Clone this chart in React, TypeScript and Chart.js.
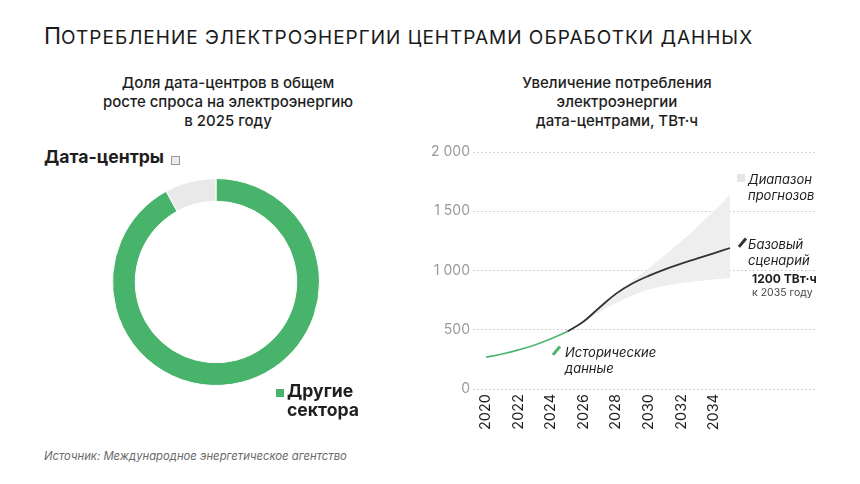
import React, { useEffect, useRef } from "react";
import { Chart, registerables } from "chart.js";

Chart.register(...registerables);

// Donut data
const donutLabels = ["Другие сектора", "Дата-центры"];
const donutValues = [92, 8];
const donutColors = ["#48b36a", "#e9e9e9"];

// Line chart data
const histYears = [2020, 2021, 2022, 2023, 2024, 2025];
const histValues = [268, 295, 330, 372, 425, 485];
const baseYears = [2025, 2026, 2027, 2028, 2029, 2030, 2031, 2032, 2033, 2034, 2035];
const baseValues = [485, 570, 690, 805, 890, 955, 1010, 1058, 1102, 1145, 1190];
const rangeYears = [2026, 2027, 2028, 2029, 2030, 2031, 2032, 2033, 2034, 2035];
const rangeHigh = [575, 700, 815, 915, 1020, 1130, 1245, 1370, 1500, 1640];
const rangeLow = [565, 650, 725, 790, 840, 872, 895, 912, 925, 936];
const xTickYears = [2020, 2022, 2024, 2026, 2028, 2030, 2032, 2034];
const yTickValues = [0, 500, 1000, 1500, 2000];

const FONT = "Inter, 'Noto Sans', sans-serif";

const toPts = (xs: number[], ys: number[]) => xs.map((x, i) => ({ x, y: ys[i] }));
const fmtThousands = (v: number) =>
  String(v).replace(/\B(?=(\d{3})+(?!\d))/g, " ");

function Donut() {
  const ref = useRef<HTMLCanvasElement>(null);
  useEffect(() => {
    const chart = new Chart(ref.current!, {
      type: "doughnut",
      data: {
        labels: donutLabels,
        datasets: [
          {
            data: donutValues,
            backgroundColor: donutColors,
            borderColor: "#ffffff",
            borderWidth: 1,
          },
        ],
      },
      options: {
        animation: false,
        responsive: false,
        cutout: "78%",
        layout: { padding: 0 },
        plugins: { legend: { display: false }, tooltip: { enabled: false } },
      },
    });
    return () => chart.destroy();
  }, []);
  return (
    <canvas
      ref={ref}
      width={208}
      height={208}
      style={{ position: "absolute", left: 112, top: 178, width: 208, height: 208 }}
    />
  );
}

function LineChart() {
  const ref = useRef<HTMLCanvasElement>(null);
  useEffect(() => {
    const chart = new Chart(ref.current!, {
      type: "line",
      data: {
        datasets: [
          {
            label: "Исторические данные",
            data: toPts(histYears, histValues),
            borderColor: "#4cb56e",
            borderWidth: 1.6,
            pointRadius: 0,
            tension: 0.4,
            fill: false,
            order: 0,
          },
          {
            label: "Базовый сценарий",
            data: toPts(baseYears, baseValues),
            borderColor: "#333333",
            borderWidth: 1.8,
            pointRadius: 0,
            tension: 0.4,
            fill: false,
            order: 0,
          },
          {
            label: "Диапазон прогнозов (верх)",
            data: toPts(rangeYears, rangeHigh),
            borderWidth: 0,
            borderColor: "rgba(0,0,0,0)",
            backgroundColor: "#eeeeee",
            pointRadius: 0,
            tension: 0.3,
            fill: "+1",
            order: 2,
          },
          {
            label: "Диапазон прогнозов (низ)",
            data: toPts(rangeYears, rangeLow),
            borderWidth: 0,
            borderColor: "rgba(0,0,0,0)",
            pointRadius: 0,
            tension: 0.3,
            fill: false,
            order: 3,
          },
        ],
      },
      options: {
        animation: false,
        responsive: false,
        layout: { padding: { top: 12, right: 23, left: 0, bottom: 0 } },
        plugins: { legend: { display: false }, tooltip: { enabled: false } },
        scales: {
          x: {
            type: "linear",
            min: 2019.2,
            max: 2040.35,
            grid: { display: false, drawTicks: false },
            border: { display: false },
            afterBuildTicks: (scale: any) => {
              scale.ticks = xTickYears.map((v) => ({ value: v }));
            },
            afterFit: (scale: any) => {
              scale.height = 51;
            },
            ticks: {
              autoSkip: false,
              minRotation: 90,
              maxRotation: 90,
              padding: 5,
              color: "#1e1e1e",
              font: { family: FONT, size: 14.5 },
              callback: (v: any) => String(v),
            },
          },
          y: {
            min: 0,
            max: 2000,
            afterBuildTicks: (scale: any) => {
              scale.ticks = yTickValues.map((v) => ({ value: v }));
            },
            afterFit: (scale: any) => {
              scale.width = 53;
            },
            grid: { color: "#c4c4c4", lineWidth: 1, drawTicks: false },
            border: { display: false, dash: [1.5, 2.5] },
            ticks: {
              padding: 3,
              color: "#9a9a9a",
              font: { family: FONT, size: 14 },
              callback: (v: any) => fmtThousands(Number(v)),
            },
          },
        },
      },
    });
    return () => chart.destroy();
  }, []);
  return (
    <canvas
      ref={ref}
      width={420}
      height={300}
      style={{ position: "absolute", left: 420, top: 140, width: 420, height: 300 }}
    />
  );
}

const abs = (left: number, top: number, extra: React.CSSProperties = {}): React.CSSProperties => ({
  position: "absolute",
  left,
  top,
  fontFamily: FONT,
  whiteSpace: "nowrap",
  ...extra,
});

export default function App() {
  return (
    <div
      style={{
        position: "fixed",
        left: 0,
        top: 0,
        width: 860,
        height: 484,
        background: "#ffffff",
        overflow: "hidden",
        fontFamily: FONT,
        color: "#1e1e1e",
      }}
    >
      <div style={abs(44, 22, { fontWeight: 400, color: "#1a1a1a", lineHeight: "28px" })}>
        <span style={{ fontSize: 23 }}>П</span>
        <span style={{ fontSize: 19, textTransform: "uppercase", letterSpacing: 1.0 }}>
          отребление электроэнергии центрами обработки данных
        </span>
      </div>

      <div
        style={abs(78, 73, {
          width: 300,
          textAlign: "center",
          fontSize: 15,
          fontWeight: 500,
          lineHeight: "19px",
          whiteSpace: "normal",
        })}
      >
        Доля дата-центров в общем
        <br />
        росте спроса на электроэнергию
        <br />в 2025 году
      </div>

      <div
        style={abs(467, 73, {
          width: 300,
          textAlign: "center",
          fontSize: 15,
          fontWeight: 500,
          lineHeight: "19px",
          whiteSpace: "normal",
        })}
      >
        Увеличение потребления
        <br />
        электроэнергии
        <br />
        дата-центрами, ТВт·ч
      </div>

      <Donut />
      <div style={abs(44, 146, { fontSize: 17.6, fontWeight: 700 })}>Дата-центры</div>
      <div
        style={abs(171, 156, {
          width: 7,
          height: 7,
          border: "1px solid #9a9a9a",
          background: "#ececec",
        })}
      />
      <div style={abs(276, 389, { width: 8, height: 8, background: "#48b36a" })} />
      <div style={abs(287, 381, { fontSize: 17.6, fontWeight: 700, lineHeight: "19px" })}>
        Другие
        <br />
        сектора
      </div>

      <LineChart />

      <div style={abs(737, 174, { width: 8, height: 8, background: "#e6e6e6" })} />
      <div style={abs(748, 171, { fontSize: 13, fontStyle: "italic", lineHeight: "16px" })}>
        Диапазон
        <br />
        прогнозов
      </div>
      <div
        style={abs(741, 237, {
          width: 2.5,
          height: 11,
          background: "#333333",
          transform: "rotate(40deg)",
        })}
      />
      <div style={abs(748, 236, { fontSize: 13, fontStyle: "italic", lineHeight: "16px" })}>
        Базовый
        <br />
        сценарий
      </div>
      <div style={abs(752, 271, { fontSize: 12, fontWeight: 700 })}>1200 ТВт·ч</div>
      <div style={abs(752, 286, { fontSize: 10.5, color: "#444444" })}>к 2035 году</div>
      <div
        style={abs(555, 345, {
          width: 2.5,
          height: 11,
          background: "#4cb56e",
          transform: "rotate(40deg)",
        })}
      />
      <div style={abs(565, 344, { fontSize: 13, fontStyle: "italic", lineHeight: "16px" })}>
        Исторические
        <br />
        данные
      </div>

      <div style={abs(44, 449, { fontSize: 11.3, fontStyle: "italic", color: "#6a6a6a" })}>
        Источник: Международное энергетическое агентство
      </div>
    </div>
  );
}
